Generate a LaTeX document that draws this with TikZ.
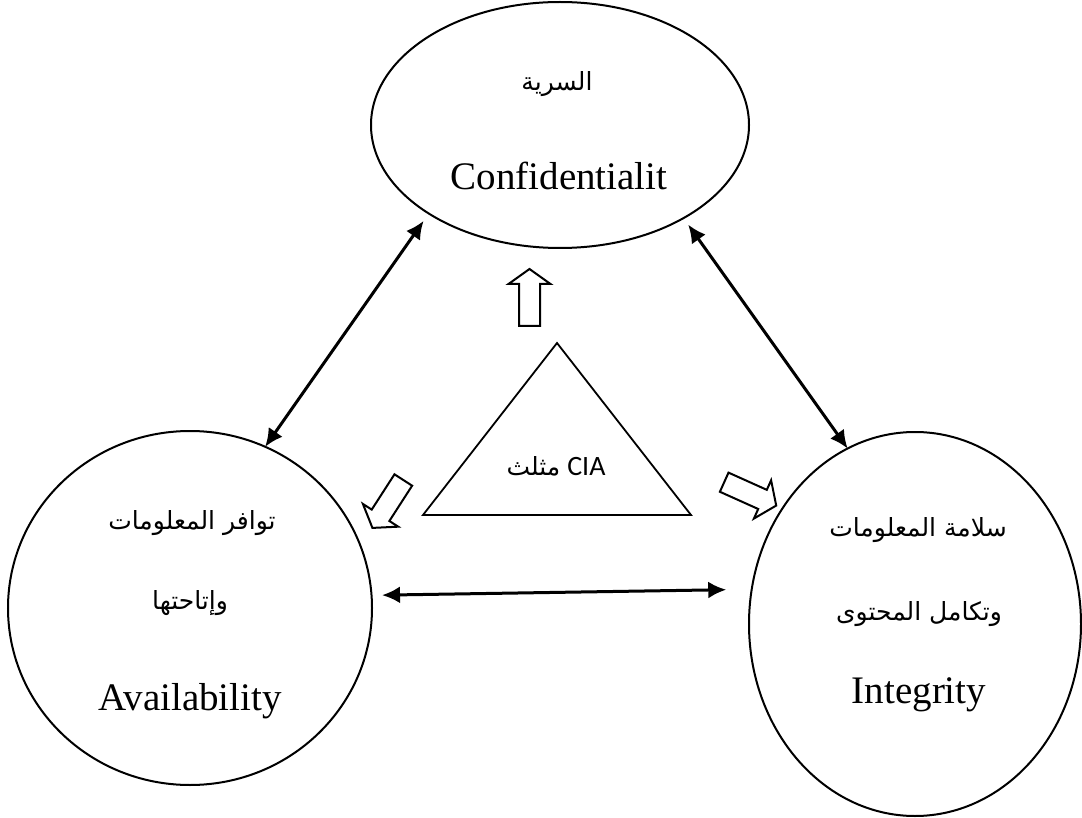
\documentclass[tikz,border=0pt]{standalone}
\usepackage{fontspec}
\setmainfont{Liberation Serif}
\newfontfamily\arabicfont[Script=Arabic]{DejaVu Sans}
\newfontfamily\labelsans{Carlito}
\TeXXeTstate=1
\usetikzlibrary{shapes.geometric,arrows.meta}

\begin{document}
\begin{tikzpicture}[x=1pt,y=-1pt,
  ring/.style={draw, ellipse, line width=2pt, inner sep=0pt, outer sep=0pt},
  twoway/.style={{Latex[length=18pt,width=17pt]}-{Latex[length=18pt,width=17pt]}, line width=3pt},
  latin/.style={font=\fontsize{39}{44}\selectfont, anchor=base, inner sep=0pt},
  arabic/.style={font=\fontsize{25}{30}\arabicfont, inner sep=0pt},
  blockline/.style={draw, line width=2pt, line join=miter, fill=white},
  blockarrow/.pic={\path[blockline] (0,-10.5) -- (42,-10.5) -- (42,-21) -- (57,0)
      -- (42,21) -- (42,10.5) -- (0,10.5) -- cycle;}
]
\useasboundingbox (0,0) rectangle (1082,818);

% the three circles of the CIA model
\node[ring, minimum width=378pt, minimum height=246pt] (conf)  at (560,125) {};
\node[ring, minimum width=364pt, minimum height=354pt] (avail) at (190,608) {};
\node[ring, minimum width=332pt, minimum height=384pt] (integ) at (915,624) {};

% labels
\node[arabic] (confar) at (557,84) {\beginR السرية\endR};
\node[latin] (confen) at (559,190) {Confidentialit};
\node[arabic] (availar1) at (192,523) {\beginR توافر المعلومات\endR};
\node[arabic] (availar2) at (190,603) {\beginR وإتاحتها\endR};
\node[latin] (availen) at (190,710) {Availability};
\node[arabic] (integar1) at (918,530) {\beginR سلامة المعلومات\endR};
\node[arabic] (integar2) at (919,614) {\beginR وتكامل المحتوى\endR};
\node[latin] (integen) at (919,703) {Integrity};

% two-way links between the circles
\draw[twoway, shorten >=9pt] (avail.65.9) -- (conf.214);
\draw[twoway, shorten <=8pt] (conf.323) -- (integ.111);
\draw[twoway, shorten <=10.5pt, shorten >=25.5pt] (avail.4.7) -- (integ.168);

% central triangle
\coordinate (apex) at (557,343);
\coordinate (bl) at (423,515);
\coordinate (br) at (691,515);
\draw[line width=1.8pt, line join=miter] (apex) -- (bl) -- (br) -- cycle;
\node[inner sep=0pt] (ciatext) at (556,466)
  {{\fontsize{25}{28}\arabicfont\beginR مثلث\endR}\hspace{7pt}{\fontsize{28}{30}\labelsans CIA}};

% hollow block arrows pointing to each circle
\pic[rotate=90] at (529.5,326) {blockarrow};
\pic[rotate=237.2] at (403.3,480) {blockarrow};
\pic[rotate=-24.2] at (724.2,482.2) {blockarrow};
\end{tikzpicture}
\end{document}
